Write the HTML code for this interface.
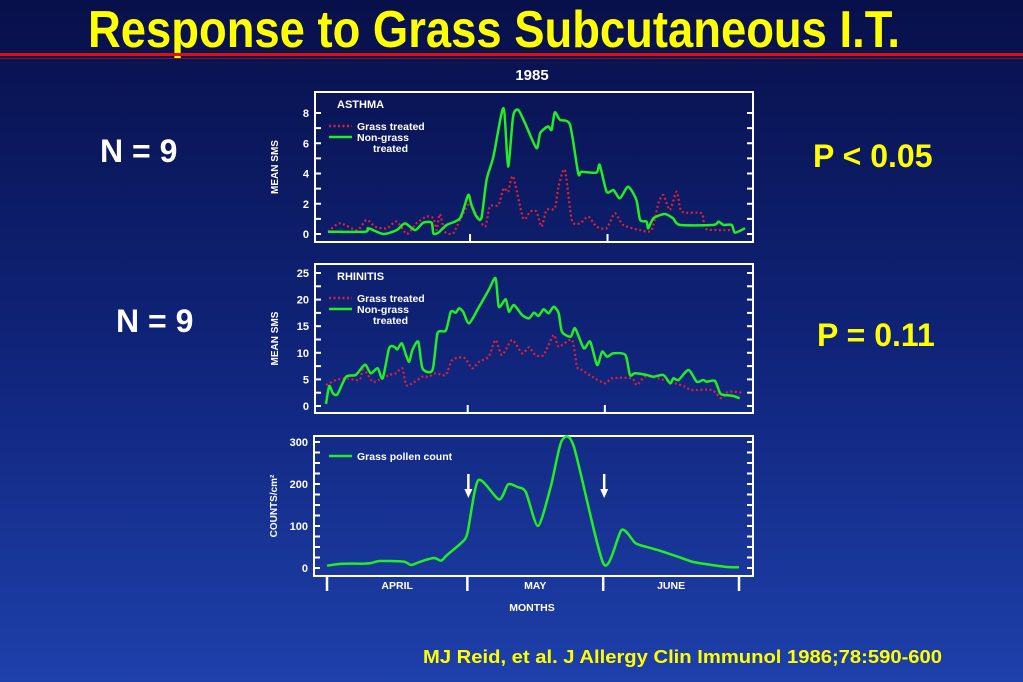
<!DOCTYPE html>
<html><head><meta charset="utf-8"><style>
html,body{margin:0;padding:0;width:1023px;height:682px;overflow:hidden;background:#0c1550}
svg{display:block;font-family:"Liberation Sans",Arial,sans-serif;font-weight:bold}
</style></head><body>
<svg id="s" width="1023" height="682" viewBox="0 0 1023 682">
<defs><linearGradient id="bg" x1="0" y1="0" x2="0" y2="1"><stop offset="0" stop-color="#08104a"/><stop offset="0.5" stop-color="#0f2378"/><stop offset="1" stop-color="#1e40ab"/></linearGradient></defs>
<rect width="1023" height="682" fill="url(#bg)"/>
<text x="88" y="47" font-size="52" fill="#ffff00" textLength="812" lengthAdjust="spacingAndGlyphs">Response to Grass Subcutaneous I.T.</text>
<rect x="0" y="53" width="1023" height="3" fill="#e01010"/>
<rect x="0" y="58" width="1023" height="1" fill="#901020"/>
<text x="532" y="80" font-size="15" fill="#fff" text-anchor="middle">1985</text>
<text x="100" y="162" font-size="32" fill="#fff">N = 9</text>
<text x="116" y="332" font-size="32" fill="#fff">N = 9</text>
<text x="813" y="167" font-size="32" fill="#ffff00">P &lt; 0.05</text>
<text x="817" y="346" font-size="32" fill="#ffff00">P = 0.11</text>
<text x="423" y="663" font-size="18" fill="#ffff00" textLength="519" lengthAdjust="spacingAndGlyphs">MJ Reid, et al. J Allergy Clin Immunol 1986;78:590-600</text>
<g id="charts"></g>
</svg>
<script>
// Asthma (days since Apr 1, mean SMS)
const asthmaGreenDays=[0,8.1,8.8,12.1,15,16.8,19,20.8,22.6,23,24.1,25.9,28.8,30.6,31.3,32.4,33.5,34.6,36.1,38.3,39.3,40.4,41.5,43,45.5,46.3,48,48.8,49.5,50.6,52.8,54.6,55.3,58.6,59.3,60.8,62.3,63.7,65.5,67.3,68.1,69.5,69.9,71,73.5,75.3,76.8,84.1,85.2,86.3,88.1,88.8,91];
const asthmaGreenVals=[0.15,0.15,0.38,0,0.26,0.7,0.26,0.75,0.75,0.04,0.09,0.6,1.04,2.58,1.92,1.15,1.08,3.58,5.12,8.32,4.46,7.77,8.21,7.33,5.67,6.67,7.11,6.89,8.04,7.55,7.22,4.02,4.11,4.06,4.57,2.8,2.9,2.36,3.13,2.25,0.93,0.82,0.38,1.04,1.32,1.04,0.6,0.6,0.82,0.6,0.6,0.09,0.38];
const asthmaRedDays=[0,2.6,6.3,8.4,10.3,12.8,15,17.2,19.3,21.5,23,23.7,24.4,25.5,27.3,28.8,30.9,32.4,34.3,35.3,37.2,38.3,39.3,40.4,42.6,44.1,45.5,46.6,47.7,49.5,50.3,51.7,53.2,55,56.8,58.6,60.8,62.6,64.4,68.1,70.6,72.1,73.2,74.6,76.1,77.2,81.5,82.3,85.4,88.4];
const asthmaRedVals=[0.15,0.71,0.26,0.93,0.49,0.37,0.82,0,0.71,1.15,1.04,0.26,1.32,0.15,0.04,0.93,2.03,1.26,0.49,1.81,1.92,3.02,2.8,3.8,1.04,1.48,1.48,0.49,1.59,1.7,3.13,4.24,0.93,0.71,1.15,0.49,0.38,1.37,0.6,0.26,0.26,2.03,2.58,1.59,2.8,1.48,1.37,0.38,0.26,0.26];
// Rhinitis
const rhinGreenDays=[0,0.7,1.5,2.5,4.4,6.5,8,8.7,9.8,11.3,12.4,13.8,14.9,15.6,16.6,17.5,18.2,18.9,20.2,21.1,23.3,24.4,26.2,27.3,28.4,29.1,30,31.3,33.5,35.6,37.1,37.8,39.3,40,41.1,42.9,44.4,45.5,46.5,47.6,48.7,49.8,50.9,51.6,53.5,54.5,56.4,57.8,59.3,60.4,61.5,62.9,65.5,66.5,67.6,70.2,71.6,73.8,75.3,76,77.1,79.3,81.1,82.5,83.3,85.1,86.2,87.3,89.1,90.5];
const rhinGreenVals=[0.38,3.76,2.38,2.19,5.51,5.83,7.39,7.71,6.14,7.08,5.2,10.84,11.15,10.65,11.78,9.59,8.33,10.53,12.09,7.08,6.77,13.66,14.16,17.73,17.54,18.36,17.73,15.54,18.67,21.8,24,18.67,20.05,17.73,18.98,17.11,16.48,17.54,16.92,18.17,17.42,18.67,17.42,13.97,13.03,14.6,10.84,12.09,7.71,10.21,9.27,9.9,9.59,5.83,6.14,5.83,5.51,5.83,4.26,5.2,4.89,6.77,4.57,4.89,4.57,4.7,2.38,2.07,1.88,1.44];
const rhinRedDays=[0,2.2,4.4,7.3,8,8.7,10.2,11.6,13.8,15.3,16.7,17.5,18.9,21.1,22.5,24,26.2,27.6,30.2,32,33.5,35.6,37.1,38.5,40.7,42.9,44.4,45.8,47.6,49.8,50.9,53.8,54.9,56,58.2,61.1,62.5,66.9,68,69.8,72.7,76.4,78.5,80,84.4,86.5,88,90.9];
const rhinRedVals=[3.95,4.89,5.2,4.89,6.77,6.45,4.57,4.89,5.83,6.14,7.08,3.95,4.26,5.51,5.51,6.14,5.83,8.65,9.08,7.08,8.33,9.27,12.4,9.59,12.4,9.9,11.03,9.59,9.59,13.35,11.15,12.4,7.39,6.77,5.51,4.26,5.2,5.2,3.95,5.51,5.2,4.26,3.64,3.01,3.01,1.44,2.69,2.51];
// Pollen
const pollenDays=[0,3.2,7.6,9.8,11.6,16.4,17.5,18.6,20.8,23.7,25.2,26.6,29.6,31,33.4,38,40,42,43.9,46.6,49.4,51.8,54.5,61.1,65.1,68.1,70.7,73.6,77.3,80.9,84.6,88.3,91];
const pollenVals=[5.5,10.3,10.3,11.8,16.6,15.8,13.4,7.1,15.8,23.7,17.4,31.6,59.2,82.8,209,163,199,193,181,100,193,302,290,9.5,90.7,59.2,49.7,41,27.6,14.2,7.9,2.4,1.6];
const asthmaTicks=[0,2,4,6,8];
const rhinTicks=[0,5,10,15,20,25];
const pollenTicks=[0,100,200,300];
const monthLabels=["APRIL","MAY","JUNE"];
const monthStarts=[0,31,61,91];
const arrowDays=[31,61];

const NS="http://www.w3.org/2000/svg";
const g=document.getElementById('charts');
function mk(tag,attrs,parent,text){const e=document.createElementNS(NS,tag);for(const k in attrs)e.setAttribute(k,attrs[k]);if(text!==undefined)e.textContent=text;(parent||g).appendChild(e);return e;}
function smoothPath(pts){
  let d='M'+pts[0][0].toFixed(1)+','+pts[0][1].toFixed(1);
  const t=0.12;
  for(let i=0;i<pts.length-1;i++){
    const p0=pts[Math.max(0,i-1)],p1=pts[i],p2=pts[i+1],p3=pts[Math.min(pts.length-1,i+2)];
    const c1=[p1[0]+(p2[0]-p0[0])*t,p1[1]+(p2[1]-p0[1])*t];
    const c2=[p2[0]-(p3[0]-p1[0])*t,p2[1]-(p3[1]-p1[1])*t];
    d+=' C'+c1.map(v=>v.toFixed(1)).join(',')+' '+c2.map(v=>v.toFixed(1)).join(',')+' '+p2[0].toFixed(1)+','+p2[1].toFixed(1);
  }
  return d;
}
function panel(cfg){
  const sx=d=>cfg.x0+(d/91)*(cfg.x1-cfg.x0);
  const sy=v=>cfg.y0-(v/cfg.vmax)*(cfg.y0-cfg.yTop);
  const grp=mk('g',{});
  
  
  const fr=mk('rect',{x:cfg.fl,y:cfg.ft,width:cfg.fr-cfg.fl,height:cfg.fb-cfg.ft,fill:'none',stroke:'#fff','stroke-width':2},grp);
  
  
  for(let v=0;v<=cfg.vmax+1e-9;v+=cfg.minor){
    const y=sy(v);
    mk('line',{x1:cfg.fl,x2:cfg.fl+6,y1:y,y2:y,stroke:'#fff','stroke-width':2},grp);
    mk('line',{x1:cfg.fr-6,x2:cfg.fr,y1:y,y2:y,stroke:'#fff','stroke-width':2},grp);
  }
  cfg.ticks.forEach(v=>{
    const t=mk('text',{x:cfg.fl-6,y:sy(v)+4,'font-size':11,fill:'#fff','text-anchor':'end'},grp,String(v));
    
    
  });
  const yl=mk('text',{transform:`translate(${cfg.fl-37},${(cfg.ft+cfg.fb)/2}) rotate(-90)`,'font-size':10,fill:'#fff','text-anchor':'middle'},grp,cfg.ylabel);
  
  
  monthStarts.forEach(d=>{
    if(cfg.bottomTicks){mk('line',{x1:sx(d),x2:sx(d),y1:cfg.fb,y2:cfg.fb+15,stroke:'#fff','stroke-width':2.5},grp);}
    else if(d>0&&d<91){mk('line',{x1:sx(d),x2:sx(d),y1:cfg.fb-8,y2:cfg.fb,stroke:'#fff','stroke-width':2},grp);}
  });
  cfg.series.forEach(s=>{
    const pts=s.days.map((d,i)=>[sx(d),sy(s.vals[i])]);
    const p=mk('path',{d:smoothPath(pts),fill:'none',stroke:s.color,'stroke-width':s.dotted?2.2:2.5,'stroke-dasharray':s.dotted?'2 2.5':'none','stroke-linejoin':'round'},grp);
    
    
  });
  return {sx,sy,grp};
}
const p1=panel({name:'asthma-chart',fl:315,fr:753,ft:92,fb:242,x0:328,x1:745,y0:234,yTop:113,vmax:8,minor:1,ticks:asthmaTicks,ylabel:'MEAN SMS',
  series:[{name:'asthma-grass-treated-line',days:asthmaRedDays,vals:asthmaRedVals,color:'#e0203a',dotted:true},{name:'asthma-non-grass-line',days:asthmaGreenDays,vals:asthmaGreenVals,color:'#22ee22'}]});
const p2=panel({name:'rhinitis-chart',fl:315,fr:753,ft:264,fb:413,x0:326,x1:742,y0:406,yTop:273,vmax:25,minor:2.5,ticks:rhinTicks,ylabel:'MEAN SMS',
  series:[{name:'rhinitis-grass-treated-line',days:rhinRedDays,vals:rhinRedVals,color:'#e0203a',dotted:true},{name:'rhinitis-non-grass-line',days:rhinGreenDays,vals:rhinGreenVals,color:'#22ee22'}]});
const p3=panel({name:'pollen-chart',fl:314,fr:753,ft:436,fb:576,x0:327,x1:739,y0:568,yTop:442,vmax:300,minor:25,ticks:pollenTicks,ylabel:'COUNTS/cm²',bottomTicks:true,
  series:[{name:'pollen-count-line',days:pollenDays,vals:pollenVals,color:'#22ee22'}]});
function legend(grp,title,y){
  const t=mk('text',{x:337,y:y,'font-size':11,fill:'#fff'},grp,title);
  mk('line',{x1:329,x2:352,y1:y+18,y2:y+18,stroke:'#e0203a','stroke-width':2.5,'stroke-dasharray':'2 2.5'},grp);
  const a=mk('text',{x:357,y:y+22,'font-size':10.5,fill:'#fff'},grp,'Grass treated');
  mk('line',{x1:329,x2:352,y1:y+29,y2:y+29,stroke:'#22ee22','stroke-width':2.5},grp);
  const b=mk('text',{x:357,y:y+33,'font-size':10.5,fill:'#fff'},grp,'Non-grass');
  mk('text',{x:373,y:y+44,'font-size':10.5,fill:'#fff'},grp,'treated');
}
legend(p1.grp,'ASTHMA',108);
legend(p2.grp,'RHINITIS',280);
mk('line',{x1:329,x2:352,y1:456,y2:456,stroke:'#22ee22','stroke-width':2.5},p3.grp);
const pl=mk('text',{x:357,y:460,'font-size':10.5,fill:'#fff'},p3.grp,'Grass pollen count');


monthLabels.forEach((m,i)=>{
  const t=mk('text',{x:p3.sx((monthStarts[i]+monthStarts[i+1])/2),y:589,'font-size':10.5,fill:'#fff','text-anchor':'middle'},p3.grp,m);
  
  
});
const xt=mk('text',{x:532,y:611,'font-size':10.5,fill:'#fff','text-anchor':'middle'},p3.grp,'MONTHS');


arrowDays.forEach(d=>{
  const x=p3.sx(d)+1;
  const a=mk('g',{},p3.grp);
  
  
  mk('line',{x1:x,x2:x,y1:474,y2:490,stroke:'#fff','stroke-width':2.5},a);
  mk('polygon',{points:`${x-4},489 ${x+4},489 ${x},498`,fill:'#fff'},a);
});
</script>
</body></html>
